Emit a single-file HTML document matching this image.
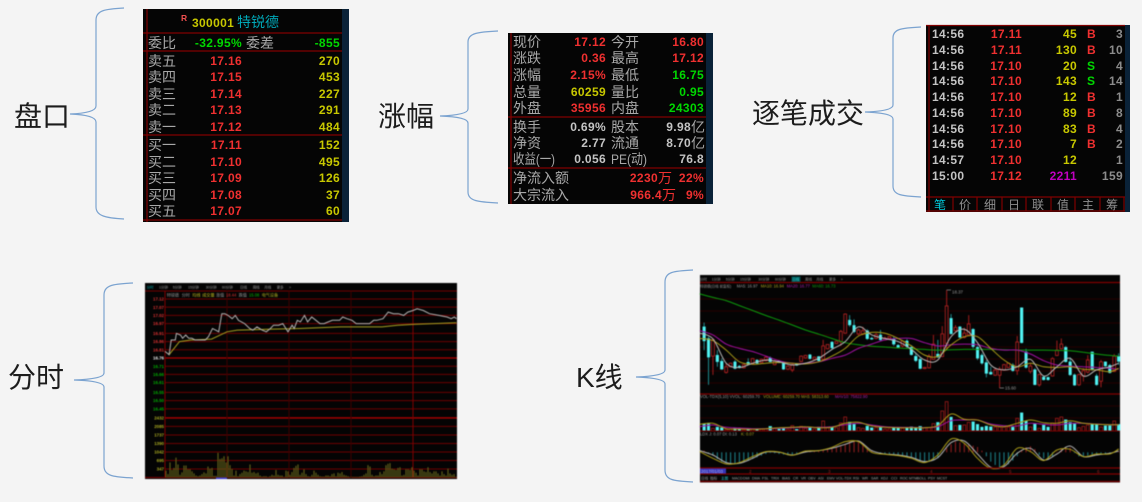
<!DOCTYPE html>
<html lang="zh">
<head>
<meta charset="utf-8">
<title>分时 K线 盘口</title>
<style>
html,body{margin:0;padding:0;background:#f4f4f4;width:1142px;height:502px;overflow:hidden}
svg{display:block;position:absolute;left:0;top:0}
text{font-family:"Liberation Sans","Noto Sans CJK SC",sans-serif}
.big{font-size:28px;fill:#1c1c1c;font-family:"Liberation Sans","Noto Sans CJK SC",sans-serif}
.l{font-size:14px;fill:#a8a8a8}
.n{font-size:12px;font-weight:700;letter-spacing:.35px}
.r{fill:#f03030}.y{fill:#c8c800}.g{fill:#00d800}.w{fill:#c4c4c4}.c{fill:#00a8b8}.m{fill:#c000c0}.d{fill:#8c8c8c}
.e{text-anchor:end}
.s{font-size:4.1px;fill:#9a9a9a}
.t{font-size:3.5px;fill:#9a9a9a}
.brace{fill:none;stroke:#7ba3d0;stroke-width:1.2}
.ln{stroke:#800000;stroke-width:1.2}
.soft{filter:blur(.35px)}
.blur{filter:blur(.55px)}
</style>
</head>
<body>
<svg width="1142" height="502" viewBox="0 0 1142 502" xmlns="http://www.w3.org/2000/svg">

<text class="big" x="14" y="126">盘口</text>
<text class="big" x="378" y="126">涨幅</text>
<text class="big" x="752" y="123">逐笔成交</text>
<text class="big" x="8" y="387">分时</text>
<text class="big" x="576" y="387">K线</text>

<path class="brace" d="M124 8C106 9 96 10 96 20L96 106Q96 113 70 114Q96 115 96 122L96 207C96 216 106 218 124 219"/>
<path class="brace" d="M498 31C478 32 468 33 468 42L468 109Q468 115 440 116Q468 117 468 123L468 192C468 201 478 202 498 203"/>
<path class="brace" d="M921 27C901 28 893 29 893 38L893 105Q893 111 865 112Q893 113 893 119L893 186C893 195 901 196 921 197"/>
<path class="brace" d="M133 283C113 284 104 285 104 295L104 373Q104 379 74 380Q104 381 104 387L104 466C104 476 113 477 133 478"/>
<path class="brace" d="M693 270C673 271 665 272 665 282L665 370Q665 376 636 377Q665 378 665 384L665 470C665 480 673 481 693 482"/>

<g class="soft">
<rect x="143" y="9" width="206" height="213" fill="#050505"/>
<rect x="342" y="9" width="7" height="213" fill="#0a2238"/>
<line class="ln" x1="147" y1="9" x2="147" y2="222"/>
<line class="ln" x1="143" y1="33" x2="342" y2="33"/>
<line class="ln" x1="143" y1="51" x2="342" y2="51"/>
<line class="ln" x1="143" y1="135" x2="342" y2="135"/>
<line class="ln" x1="143" y1="220" x2="342" y2="220"/>
<text x="181" y="21" font-size="8.5" font-weight="700" fill="#f05050">R</text>
<text class="n y" x="192" y="27">300001</text>
<text class="c" x="237" y="27" font-size="14">特锐德</text>
<text class="l" x="148" y="48">委比</text>
<text class="n g e" x="242" y="47">-32.95%</text>
<text class="l" x="246" y="48">委差</text>
<text class="n g e" x="340" y="47">-855</text>

<text class="l" x="148" y="66">卖五</text><text class="n r e" x="242" y="65">17.16</text><text class="n y e" x="340" y="65">270</text>
<text class="l" x="148" y="82">卖四</text><text class="n r e" x="242" y="81">17.15</text><text class="n y e" x="340" y="81">453</text>
<text class="l" x="148" y="99">卖三</text><text class="n r e" x="242" y="98">17.14</text><text class="n y e" x="340" y="98">227</text>
<text class="l" x="148" y="115">卖二</text><text class="n r e" x="242" y="114">17.13</text><text class="n y e" x="340" y="114">291</text>
<text class="l" x="148" y="132">卖一</text><text class="n r e" x="242" y="131">17.12</text><text class="n y e" x="340" y="131">484</text>
<text class="l" x="148" y="150">买一</text><text class="n r e" x="242" y="149">17.11</text><text class="n y e" x="340" y="149">152</text>
<text class="l" x="148" y="167">买二</text><text class="n r e" x="242" y="166">17.10</text><text class="n y e" x="340" y="166">495</text>
<text class="l" x="148" y="183">买三</text><text class="n r e" x="242" y="182">17.09</text><text class="n y e" x="340" y="182">126</text>
<text class="l" x="148" y="200">买四</text><text class="n r e" x="242" y="199">17.08</text><text class="n y e" x="340" y="199">37</text>
<text class="l" x="148" y="216">买五</text><text class="n r e" x="242" y="215">17.07</text><text class="n y e" x="340" y="215">60</text>
</g>

<g class="soft">
<rect x="508" y="33" width="205" height="171" fill="#050505"/>
<rect x="706" y="33" width="7" height="171" fill="#0a2238"/>
<line class="ln" x1="511" y1="33" x2="511" y2="204"/>
<line class="ln" x1="508" y1="117" x2="706" y2="117"/>
<line class="ln" x1="508" y1="168" x2="706" y2="168"/>

<text class="l" x="513" y="47">现价</text><text class="n r e" x="606" y="46">17.12</text><text class="l" x="611" y="47">今开</text><text class="n r e" x="704" y="46">16.80</text>
<text class="l" x="513" y="63">涨跌</text><text class="n r e" x="606" y="62">0.36</text><text class="l" x="611" y="63">最高</text><text class="n r e" x="704" y="62">17.12</text>
<text class="l" x="513" y="80">涨幅</text><text class="n r e" x="606" y="79">2.15%</text><text class="l" x="611" y="80">最低</text><text class="n g e" x="704" y="79">16.75</text>
<text class="l" x="513" y="97">总量</text><text class="n y e" x="606" y="96">60259</text><text class="l" x="611" y="97">量比</text><text class="n g e" x="704" y="96">0.95</text>
<text class="l" x="513" y="113">外盘</text><text class="n r e" x="606" y="112">35956</text><text class="l" x="611" y="113">内盘</text><text class="n g e" x="704" y="112">24303</text>
<text class="l" x="513" y="132">换手</text><text class="n w e" x="606" y="131">0.69%</text><text class="l" x="611" y="132">股本</text><text class="n w e" x="691" y="131">9.98</text><text class="l" x="691" y="132">亿</text>
<text class="l" x="513" y="148">净资</text><text class="n w e" x="606" y="147">2.77</text><text class="l" x="611" y="148">流通</text><text class="n w e" x="691" y="147">8.70</text><text class="l" x="691" y="148">亿</text>
<text class="l" x="513" y="164" textLength="42" lengthAdjust="spacingAndGlyphs">收益(一)</text><text class="n w e" x="606" y="163">0.056</text><text class="l" x="611" y="164" textLength="36" lengthAdjust="spacingAndGlyphs">PE(动)</text><text class="n w e" x="704" y="163">76.8</text>
<text class="l" x="513" y="183">净流入额</text><text class="n r e" x="658" y="182">2230</text><text class="l r" x="658" y="183" style="fill:#f03030">万</text><text class="n r e" x="704" y="182">22%</text>
<text class="l" x="513" y="200">大宗流入</text><text class="n r e" x="662" y="199">966.4</text><text class="l r" x="662" y="200" style="fill:#f03030">万</text><text class="n r e" x="704" y="199">9%</text>
</g>

<g class="soft">
<rect x="926" y="25" width="204" height="187" fill="#050505"/>
<rect x="1125" y="25" width="5" height="187" fill="#0a2238"/>
<line class="ln" x1="929" y1="25" x2="929" y2="212"/>
<line class="ln" x1="926" y1="25.5" x2="1125" y2="25.5"/>
<line class="ln" x1="926" y1="197" x2="1125" y2="197"/>
<line class="ln" x1="926" y1="211" x2="1125" y2="211"/>

<text class="n w" x="932" y="38">14:56</text><text class="n r e" x="1022" y="38">17.11</text><text class="n y e" x="1077" y="38">45</text><text class="n r" x="1087" y="38">B</text><text class="n d e" x="1123" y="38">3</text>
<text class="n w" x="932" y="54">14:56</text><text class="n r e" x="1022" y="54">17.11</text><text class="n y e" x="1077" y="54">130</text><text class="n r" x="1087" y="54">B</text><text class="n d e" x="1123" y="54">10</text>
<text class="n w" x="932" y="70">14:56</text><text class="n r e" x="1022" y="70">17.10</text><text class="n y e" x="1077" y="70">20</text><text class="n g" x="1087" y="70">S</text><text class="n d e" x="1123" y="70">4</text>
<text class="n w" x="932" y="85">14:56</text><text class="n r e" x="1022" y="85">17.10</text><text class="n y e" x="1077" y="85">143</text><text class="n g" x="1087" y="85">S</text><text class="n d e" x="1123" y="85">14</text>
<text class="n w" x="932" y="101">14:56</text><text class="n r e" x="1022" y="101">17.10</text><text class="n y e" x="1077" y="101">12</text><text class="n r" x="1087" y="101">B</text><text class="n d e" x="1123" y="101">1</text>
<text class="n w" x="932" y="117">14:56</text><text class="n r e" x="1022" y="117">17.10</text><text class="n y e" x="1077" y="117">89</text><text class="n r" x="1087" y="117">B</text><text class="n d e" x="1123" y="117">8</text>
<text class="n w" x="932" y="133">14:56</text><text class="n r e" x="1022" y="133">17.10</text><text class="n y e" x="1077" y="133">83</text><text class="n r" x="1087" y="133">B</text><text class="n d e" x="1123" y="133">4</text>
<text class="n w" x="932" y="148">14:56</text><text class="n r e" x="1022" y="148">17.10</text><text class="n y e" x="1077" y="148">7</text><text class="n r" x="1087" y="148">B</text><text class="n d e" x="1123" y="148">2</text>
<text class="n w" x="932" y="164">14:57</text><text class="n r e" x="1022" y="164">17.10</text><text class="n y e" x="1077" y="164">12</text><text class="n d e" x="1123" y="164">1</text>
<text class="n w" x="932" y="180">15:00</text><text class="n r e" x="1022" y="180">17.12</text><text class="n m e" x="1077" y="180">2211</text><text class="n d e" x="1123" y="180">159</text>

<g>
<line class="ln" x1="953" y1="197" x2="953" y2="211"/>
<line class="ln" x1="977" y1="197" x2="977" y2="211"/>
<line class="ln" x1="1002" y1="197" x2="1002" y2="211"/>
<line class="ln" x1="1026" y1="197" x2="1026" y2="211"/>
<line class="ln" x1="1051" y1="197" x2="1051" y2="211"/>
<line class="ln" x1="1075" y1="197" x2="1075" y2="211"/>
<line class="ln" x1="1100" y1="197" x2="1100" y2="211"/>
<line class="ln" x1="1124" y1="197" x2="1124" y2="211"/>
</g>
<text x="934" y="209" font-size="12" fill="#00c8d8">笔</text>
<text x="959" y="209" font-size="12" fill="#909090">价</text>
<text x="984" y="209" font-size="12" fill="#909090">细</text>
<text x="1008" y="209" font-size="12" fill="#909090">日</text>
<text x="1032" y="209" font-size="12" fill="#909090">联</text>
<text x="1057" y="209" font-size="12" fill="#909090">值</text>
<text x="1082" y="209" font-size="12" fill="#909090">主</text>
<text x="1106" y="209" font-size="12" fill="#909090">筹</text>
</g>

<g class="blur">
<rect x="145" y="283" width="312" height="196" fill="#040404"/>
<line x1="145" y1="291" x2="457" y2="291" stroke="#700000"/>
<g id="i-grid"></g>
<g id="i-vol"></g>
<path id="i-avg" fill="none" stroke="#a8a020" stroke-width="1"/>
<path id="i-price" fill="none" stroke="#b4b4b4" stroke-width="1"/>
<g id="i-ticks" font-size="4.4" font-weight="700" text-anchor="end"></g>
<rect x="216" y="477.5" width="11" height="1.5" fill="#3838d0"/>

<text class="t" x="146.7" y="288.5" style="fill:#00a8a8">分时</text>
<text class="t" x="159" y="288.5">1分钟</text>
<text class="t" x="172.7" y="288.5">5分钟</text>
<text class="t" x="188" y="288.5">15分钟</text>
<text class="t" x="205.7" y="288.5">30分钟</text>
<text class="t" x="222" y="288.5">60分钟</text>
<text class="t" x="240" y="288.5">日线</text>
<text class="t" x="252.7" y="288.5">周线</text>
<text class="t" x="264.3" y="288.5">月线</text>
<text class="t" x="276.7" y="288.5">更多</text>
<text class="t" x="289" y="288.5">&gt;</text>

<text class="s" x="166.7" y="296.5">特锐德</text>
<text class="s" x="181.7" y="296.5">分时</text>
<text class="s" x="192.3" y="296.5" style="fill:#c8c020">均线</text>
<text class="s" x="202.3" y="296.5" style="fill:#c8c020">成交量</text>
<text class="s" x="216" y="296.5">涨值</text>
<text class="s" x="226" y="296.5" style="fill:#e03030">18.44</text>
<text class="s" x="238.7" y="296.5">跌值</text>
<text class="s" x="249" y="296.5" style="fill:#00c000">15.08</text>
<text class="s" x="261.7" y="296.5" style="fill:#b0b020">电气设备</text>
</g>

<g class="blur">
<rect x="700" y="275" width="420" height="207.5" fill="#040404"/>
<g id="k-grid"></g>
<g id="k-candles"></g>
<g id="k-mas"></g>
<g id="k-vol"></g>
<g id="k-volma"></g>
<g id="k-hist"></g>
<g id="k-ind"></g>

<line class="ln" x1="700" y1="282.5" x2="1120" y2="282.5"/>
<line class="ln" x1="700" y1="394" x2="1120" y2="394"/>
<line class="ln" x1="700" y1="468" x2="1120" y2="468"/>
<line class="ln" x1="700" y1="474" x2="1120" y2="474"/>
<line class="ln" x1="700" y1="481.5" x2="1120" y2="481.5"/>

<text class="t" x="700" y="280.5">分时</text>
<text class="t" x="711.7" y="280.5">1分钟</text>
<text class="t" x="725.7" y="280.5">5分钟</text>
<text class="t" x="740" y="280.5">15分钟</text>
<text class="t" x="758.3" y="280.5">30分钟</text>
<text class="t" x="775" y="280.5">60分钟</text>
<rect x="791.5" y="276.5" width="9" height="5.5" fill="#005050"/>
<text class="t" x="792.3" y="280.5" style="fill:#30e0e0">日线</text>
<text class="t" x="805" y="280.5">周线</text>
<text class="t" x="816.3" y="280.5">月线</text>
<text class="t" x="829" y="280.5">更多</text>
<text class="t" x="840.7" y="280.5">&gt;</text>

<text class="t" x="700" y="287.5">特锐德(日线 前复权)</text>
<text class="s" x="736.7" y="287.5">MA5: 16.97</text>
<text class="s" x="760.7" y="287.5" style="fill:#b0a820">MA10: 16.94</text>
<text class="s" x="786.7" y="287.5" style="fill:#b020b0">MA20: 16.77</text>
<text class="s" x="812.3" y="287.5" style="fill:#10a010">MA60: 16.73</text>

<text x="952" y="293.5" font-size="4.4" fill="#9a9a9a">18.37</text>
<text x="1005" y="389.5" font-size="4.4" fill="#9a9a9a">15.60</text>

<text class="s" x="700" y="398">VOL-TDX(5,10) VVOL: 60259.70</text>
<text class="s" x="763.3" y="398" style="fill:#b0a820">VOLUME: 60259.70 MA5: 58313.60</text>
<text class="s" x="835" y="398" style="fill:#b020b0">MAV10: 75822.90</text>
<text class="s" x="700" y="435.5">LDX J: 0.07 DI: 0.13</text>
<text class="s" x="741" y="435.5" style="fill:#b0a820">K: 0.07</text>

<rect x="700" y="468.5" width="26" height="5" fill="#3434b8"/>
<text x="701" y="472.8" font-size="4.4" fill="#b0b0f0">2017/01/03</text>
<text x="749" y="473" font-size="4.6" fill="#a02020">2</text>
<text x="828" y="473" font-size="4.6" fill="#a02020">3</text>
<text x="930" y="473" font-size="4.6" fill="#a02020">4</text>
<text x="1009" y="473" font-size="4.6" fill="#a02020">5</text>
<text x="1097" y="473" font-size="4.6" fill="#a02020">6</text>

<g font-size="3.6" fill="#a4a4a4">
<text x="701" y="479.5">日线</text>
<text x="710" y="479.5">指标</text>
<text x="721" y="479.5" fill="#30d0d0">主图</text>
<text x="732" y="479.5">MACD</text>
<text x="743" y="479.5">DMI</text>
<text x="752" y="479.5">DMA</text>
<text x="762" y="479.5">FSL</text>
<text x="771" y="479.5">TRIX</text>
<text x="782" y="479.5">BIAS</text>
<text x="793" y="479.5">CR</text>
<text x="801" y="479.5">VR</text>
<text x="808" y="479.5">OBV</text>
<text x="818" y="479.5">ASI</text>
<text x="827" y="479.5">EMV</text>
<text x="836" y="479.5">VOL-TDX</text>
<text x="853" y="479.5">RSI</text>
<text x="862" y="479.5">WR</text>
<text x="871" y="479.5">SAR</text>
<text x="881" y="479.5">KDJ</text>
<text x="891" y="479.5">CCI</text>
<text x="900" y="479.5">ROC</text>
<text x="909" y="479.5">MTM</text>
<text x="917" y="479.5">BOLL</text>
<text x="928" y="479.5">PSY</text>
<text x="937" y="479.5">MCST</text>
</g>
</g>
</svg>

<script>
const intradayMinutes = [0,4,6,10,11,15,17,20,23,26,29,32,35,39,42,46,49,52,55,58,61,65,68,71,74,77,82,85,89,94,98,102,105,110,114,117,119,123,125,128,131,135,138,142,146,150,154,158,162,166,169,172,176,181,185,190,195,198,202,205,211,216,221,226,231,235,240,244,250,256,265,273,277,280,282];
const intradayPrices = [16.80,16.78,16.87,16.87,16.91,16.90,16.88,16.90,16.88,16.88,16.87,16.87,16.87,16.87,16.89,16.94,16.93,16.92,17.03,17.03,17.02,17.00,17.02,16.99,16.98,16.97,16.94,16.93,16.95,16.93,16.92,16.94,16.96,16.96,16.97,16.94,16.92,16.96,16.94,16.99,16.98,17.02,16.98,17.01,16.99,16.97,16.97,16.98,16.99,16.99,16.99,17.01,17.00,16.99,16.97,16.97,16.97,16.97,16.99,16.99,17.00,17.04,17.03,17.03,17.02,17.04,17.05,17.06,17.05,17.03,17.02,17.01,17.00,17.01,17.00];
const averageMinutes = [4,14,25,45,50,60,70,100,130,170,210,225,240,282];
const averagePrices = [16.78,16.86,16.87,16.875,16.89,16.92,16.93,16.935,16.94,16.95,16.95,16.96,16.965,16.975];
const intradayVolumes = [280,140,616,308,392,812,532,112,210,490,490,336,336,252,168,84,56,84,140,210,168,448,364,392,70,70,1008,756,784,868,616,868,504,350,84,280,56,140,196,280,252,224,532,196,224,168,196,84,42,56,56,28,56,112,84,308,112,84,84,28,280,252,112,224,392,476,532,112,196,336,140,56,42,112,280,196,112,56,42,42,84,84,56,140,168,56,196,168,224,112,84,56,28,28,28,28,28,42,56,112,168,504,448,112,56,84,84,224,140,252,504,560,588,364,336,308,392,420,84,112,336,336,308,420,280,196,84,336,336,252,224,420,224,168,252,252,168,84,252,140,84,364,168,112,140,28];
const priceTickLabels = ["17.12","17.07","17.02","16.97","16.91","16.86","16.81","16.76","16.71","16.66","16.61","16.55","16.50","16.45"];
const volumeTickLabels = ["2432","2085","1737","1390","1042","695","347"];
const hourMarks = [60,120,180,240];

const opens = [17.00,17.33,17.00,16.50,16.53,16.36,16.04,16.20,16.34,16.22,16.17,16.33,16.28,16.39,16.32,16.37,16.45,16.26,16.37,16.32,16.13,16.11,16.28,16.35,16.45,16.54,16.41,16.49,16.41,16.71,16.90,16.86,16.90,17.15,17.52,17.37,17.13,17.13,17.22,17.01,17.00,17.10,16.96,17.00,16.98,16.81,16.79,16.93,16.75,16.50,16.41,16.15,16.17,16.41,16.56,16.49,16.86,17.57,17.22,17.33,17.03,17.10,17.26,16.75,16.53,16.32,16.05,15.96,15.96,16.11,16.18,16.25,16.09,17.87,16.62,16.07,16.12,15.69,15.91,15.90,15.94,16.52,16.71,16.75,16.34,15.97,15.69,15.94,16.05,16.62,15.94,15.79,16.34,16.24,16.07,16.49];
const closes = [17.41,16.93,16.47,16.96,16.34,16.13,16.20,16.30,16.15,16.17,16.26,16.26,16.43,16.30,16.41,16.47,16.34,16.36,16.32,16.13,16.22,16.26,16.24,16.50,16.52,16.43,16.47,16.37,16.79,16.83,16.73,16.92,17.20,17.69,17.38,17.19,17.24,17.22,16.99,16.98,17.11,16.96,17.01,17.05,16.84,16.75,16.92,16.77,16.54,16.37,16.15,16.18,16.50,16.84,16.47,17.13,17.92,17.13,17.31,17.03,17.15,17.41,16.77,16.44,16.30,16.01,15.99,16.11,16.13,16.26,16.30,16.09,16.90,16.88,16.18,16.22,15.69,15.98,15.83,15.83,16.43,16.67,16.84,16.34,15.97,15.68,15.98,16.09,16.39,16.11,15.69,16.34,16.22,16.03,16.50,16.35];
const highs = [17.43,17.45,17.05,17.00,16.67,16.44,16.30,16.32,16.39,16.25,16.28,16.44,16.45,16.41,16.43,16.50,16.49,16.39,16.39,16.34,16.24,16.28,16.30,16.52,16.54,16.56,16.49,16.50,16.96,16.84,16.92,16.94,17.24,17.71,17.66,17.54,17.28,17.33,17.26,17.05,17.15,17.24,17.05,17.07,17.05,16.84,16.94,16.98,16.81,16.58,16.47,16.20,16.56,17.10,16.96,17.35,18.37,17.69,17.38,17.35,17.31,17.66,17.29,16.79,16.58,16.39,16.20,16.16,16.20,16.28,16.32,16.30,17.07,17.88,16.71,16.30,16.16,16.00,15.94,15.92,16.47,16.94,17.00,16.79,16.47,16.01,16.00,16.16,16.53,16.63,16.00,16.39,16.35,16.28,16.56,16.58];
const lows = [16.96,16.67,15.69,15.97,16.20,16.11,16.01,16.18,16.13,16.15,16.15,16.24,16.26,16.28,16.30,16.35,16.33,16.24,16.30,16.11,16.11,16.05,16.22,16.33,16.43,16.41,16.39,16.35,16.39,16.69,16.71,16.84,16.79,17.13,17.33,17.15,17.09,17.10,16.96,16.96,16.98,16.92,16.94,16.98,16.79,16.73,16.75,16.73,16.52,16.33,16.13,16.13,16.15,16.39,16.45,16.47,16.67,17.11,17.19,17.01,17.00,17.07,16.72,16.39,16.26,15.90,15.97,15.94,15.60,16.09,16.17,16.06,15.97,16.86,16.15,16.01,15.68,15.64,15.81,15.81,15.92,16.50,16.69,16.32,15.94,15.66,15.66,15.78,16.01,16.09,15.66,15.62,16.20,16.01,16.05,16.25];
const maSessions = [0,3,6,9,12,15,18,21,24,27,30,33,36,39,42,45,48,51,54,57,60,63,66,69,72,75,78,81,84,87,90,93,95];
const ma5 = [17.15,16.99,16.30,16.18,16.30,16.39,16.34,16.25,16.30,16.44,16.69,16.91,17.33,17.10,17.00,16.91,16.69,16.39,16.39,17.05,17.26,16.88,16.25,16.11,16.20,16.41,15.94,16.20,16.44,15.94,16.11,16.20,16.30];
const ma10 = [17.00,16.94,16.67,16.34,16.27,16.30,16.32,16.30,16.28,16.34,16.50,16.72,17.07,17.17,17.15,17.00,16.79,16.53,16.49,16.82,17.05,17.05,16.72,16.39,16.20,16.30,16.20,16.18,16.20,16.13,16.11,16.06,16.16];
const ma20 = [17.22,17.10,16.84,16.72,16.63,16.50,16.37,16.30,16.30,16.34,16.44,16.53,16.72,16.84,16.96,17.00,17.00,16.88,16.79,16.82,16.84,16.82,16.72,16.67,16.67,16.56,16.37,16.25,16.22,16.20,16.18,16.16,16.13];
const ma60 = [18.26,18.16,18.07,17.93,17.79,17.65,17.52,17.38,17.24,17.12,17.00,16.88,16.82,16.78,16.76,16.73,16.71,16.69,16.67,16.68,16.69,16.69,16.69,16.68,16.67,16.67,16.67,16.66,16.65,16.61,16.56,16.52,16.50];
const dailyVolumes = [99,66,72,24,36,30,12,18,24,18,12,21,18,15,15,18,42,24,18,24,15,48,15,42,24,33,18,36,90,30,36,30,72,126,81,60,30,24,45,30,30,42,18,18,33,30,24,27,39,30,42,30,30,66,78,180,264,126,48,54,54,78,84,60,36,45,39,36,36,36,36,36,114,165,90,36,66,24,54,36,72,114,126,102,78,66,30,42,54,60,60,36,48,48,90,60];
const volMa5 = [60,69,21,18,15,21,30,33,39,30,33,69,78,45,33,30,30,30,48,153,105,99,54,39,69,99,75,69,93,69,60,57,57];
const volMa10 = [39,54,33,27,21,21,24,30,33,33,39,57,69,54,39,33,33,30,39,93,99,99,63,48,45,69,60,54,69,69,63,57,57];
const indicatorJ = [0.02,-0.18,-0.35,-0.31,-0.13,0.02,0.01,-0.09,0.04,0.05,0.15,0.32,0.32,0,-0.06,-0.10,-0.18,-0.31,-0.08,0.40,0.27,-0.18,-0.48,-0.38,0.12,0.02,-0.25,0.07,0.09,-0.13,-0.05,-0.05,0.10];
const indicatorK = [0.05,-0.08,-0.31,-0.33,-0.18,0.01,0,-0.08,0.01,0.05,0.12,0.24,0.34,0.05,-0.05,-0.08,-0.15,-0.28,-0.16,0.29,0.34,-0.05,-0.45,-0.43,-0.03,0.12,-0.23,-0.05,0.19,-0.13,-0.08,-0.03,0.04];
const indicatorHist = [0.03,0.05,-0.02,-0.10,-0.20,-0.28,-0.32,-0.35,-0.35,-0.33,-0.30,-0.26,-0.20,-0.15,-0.10,-0.05,-0.02,-0.03,-0.05,-0.07,-0.09,-0.08,-0.06,-0.03,0.01,0.03,0.05,0.06,0.07,0.09,0.11,0.14,0.18,0.24,0.32,0.33,0.30,0.22,0.12,0.05,-0.01,-0.03,-0.04,-0.05,-0.06,-0.07,-0.09,-0.12,-0.15,-0.20,-0.25,-0.28,-0.29,-0.25,-0.18,-0.02,0.12,0.24,0.32,0.30,0.26,0.22,0.20,0.16,0.05,-0.12,-0.28,-0.38,-0.44,-0.42,-0.36,-0.25,-0.12,0.05,0.15,0.18,0.10,-0.08,-0.18,-0.22,-0.14,0.02,0.12,0.16,0.14,-0.02,-0.12,-0.14,-0.10,-0.08,-0.06,-0.05,-0.04,-0.03,-0.01,0.02];

const NS = 'http://www.w3.org/2000/svg';
function make(tag, parentId, attrs) {
  const el = document.createElementNS(NS, tag);
  for (const k in attrs) el.setAttribute(k, attrs[k]);
  document.getElementById(parentId).appendChild(el);
  return el;
}

/* intraday axes */
const minuteX = t => 165 + t * 62 / 60;
const intradayPriceY = p => 358 - (p - 16.76) / 0.0061;
const intradayVolY = v => 477.5 - v * 8.5 / 347;
const intradayBarX = i => 166 + i * 2;

function linePath(xs, ys) {
  return xs.map((x, i) => (i ? 'L' : 'M') + x.toFixed(1) + ' ' + ys[i].toFixed(1)).join('');
}
function smoothPath(xs, ys) {
  let d = 'M' + xs[0].toFixed(1) + ' ' + ys[0].toFixed(1);
  for (let i = 0; i < xs.length - 1; i++) {
    const a = Math.max(i - 1, 0), b = Math.min(i + 2, xs.length - 1);
    const c1x = xs[i] + (xs[i + 1] - xs[a]) / 6, c1y = ys[i] + (ys[i + 1] - ys[a]) / 6;
    const c2x = xs[i + 1] - (xs[b] - xs[i]) / 6, c2y = ys[i + 1] - (ys[b] - ys[i]) / 6;
    d += 'C' + c1x.toFixed(1) + ' ' + c1y.toFixed(1) + ' ' + c2x.toFixed(1) + ' ' + c2y.toFixed(1) + ' ' + xs[i + 1].toFixed(1) + ' ' + ys[i + 1].toFixed(1);
  }
  return d;
}

priceTickLabels.forEach(label => {
  const v = parseFloat(label), y = intradayPriceY(v);
  const base = label === '16.76';
  const line = make('line', 'i-grid', {x1: 165, x2: 457, y1: y, y2: y, stroke: base ? '#b00000' : '#6c0000', 'stroke-width': base ? 1.3 : 1});
  
  
  const t = make('text', 'i-ticks', {x: 164, y: y + 1.6, fill: base ? '#e8e8e8' : (v > 16.76 ? '#d83030' : '#00a800')});
  t.textContent = label;
  
  
});
volumeTickLabels.forEach((label, i) => {
  const y = intradayVolY(parseFloat(label));
  const line = make('line', 'i-grid', {x1: 165, x2: 457, y1: y, y2: y, stroke: i === 0 ? '#b00000' : '#6c0000', 'stroke-width': i === 0 ? 1.3 : 1});
  
  
  const t = make('text', 'i-ticks', {x: 164, y: y + 1.6, fill: '#a8a820'});
  t.textContent = label;
  
  
});
const intradayFloor = make('line', 'i-grid', {x1: 145, x2: 457, y1: 477.5, y2: 477.5, stroke: '#800000'});


const intradayAxis = make('line', 'i-grid', {x1: 165, x2: 165, y1: 291, y2: 478, stroke: '#800000'});


hourMarks.forEach((m, i) => {
  const x = minuteX(m);
  const line = make('line', 'i-grid', {x1: x, x2: x, y1: 291, y2: 478, stroke: i === 3 ? '#800000' : '#3c0000'});
  
  
});
intradayVolumes.forEach((v, i) => {
  const y = intradayVolY(v);
  const bar = make('rect', 'i-vol', {x: intradayBarX(i) - 0.6, y: y, width: 1.2, height: 477.5 - y, fill: '#5c5c18'});
  
  
});
document.getElementById('i-price').setAttribute('d', linePath(intradayMinutes.map(minuteX), intradayPrices.map(intradayPriceY)));
document.getElementById('i-avg').setAttribute('d', linePath(averageMinutes.map(minuteX), averagePrices.map(intradayPriceY)));

/* daily axes */
const sessionX = i => 699.7 + i * 4.41;
const klineY = p => 290 + (18.37 - p) / 0.02827;
const dailyVolY = v => 431 - v / 9;
const indicatorY = v => 452.3 - v * 33.3;

[299, 311, 323, 335, 347, 359, 371, 383, 406, 418].forEach(y => {
  const line = make('line', 'k-grid', {x1: 700, x2: 1120, y1: y, y2: y, stroke: '#240000'});
  
  
});

opens.forEach((o, i) => {
  const c = closes[i], x = sessionX(i), up = c >= o;
  if (x < 700 || x > 1120) return;
  const top = klineY(Math.max(o, c)), bot = klineY(Math.min(o, c));
  const wick = make('line', 'k-candles', {x1: x, x2: x, y1: klineY(highs[i]), y2: klineY(lows[i]), stroke: up ? '#a01c1c' : '#1e8c90', 'stroke-width': 1});
  
  
  const body = make('rect', 'k-candles', {x: x - 1.4, y: top, width: 2.8, height: Math.max(bot - top, 1),
    fill: up ? '#040404' : '#52f4f4', stroke: up ? '#a82020' : '#52f4f4', 'stroke-width': up ? 0.9 : 0.3});
  
  
});

[[ma60, '#0c9a0c', 'ma60-line'], [ma20, '#a010a0', 'ma20-line'], [ma10, '#a89a18', 'ma10-line'], [ma5, '#b8b8b8', 'ma5-line']].forEach(s => {
  const p = make('path', 'k-mas', {d: smoothPath(maSessions.map(sessionX), s[0].map(klineY)), fill: 'none', stroke: s[1], 'stroke-width': 1});
  
  
});

dailyVolumes.forEach((v, i) => {
  const x = sessionX(i), up = closes[i] >= opens[i], y = dailyVolY(v);
  if (x < 700 || x > 1120) return;
  const bar = make('rect', 'k-vol', {x: x - 1.4, y: y, width: 2.8, height: 431 - y,
    fill: up ? '#040404' : '#52f4f4', stroke: up ? '#901818' : '#52f4f4', 'stroke-width': up ? 0.9 : 0.3});
  
  
});
[[volMa10, '#a010a0', 'volume-ma10-line'], [volMa5, '#a89a18', 'volume-ma5-line']].forEach(s => {
  const p = make('path', 'k-volma', {d: smoothPath(maSessions.map(sessionX), s[0].map(dailyVolY)), fill: 'none', stroke: s[1], 'stroke-width': 1});
  
  
});
const volFloor = make('line', 'k-volma', {x1: 700, x2: 1120, y1: 431, y2: 431, stroke: '#800000'});



indicatorHist.forEach((v, i) => {
  const x = sessionX(i), y = indicatorY(v), z = indicatorY(0);
  if (x < 700 || x > 1120) return;
  const bar = make('line', 'k-hist', {x1: x, x2: x, y1: z, y2: y, stroke: v >= 0 ? '#8a1c1c' : '#1c7a82', 'stroke-width': 1.1});
  
  
});
[[indicatorK, '#b4b4b4', 'indicator-k-line'], [indicatorJ, '#a89a18', 'indicator-j-line']].forEach(s => {
  const p = make('path', 'k-ind', {d: smoothPath(maSessions.map(sessionX), s[0].map(indicatorY)), fill: 'none', stroke: s[1], 'stroke-width': 1});
  
  
});

const hiLead = make('line', 'k-ind', {x1: sessionX(56), x2: 951, y1: klineY(18.37), y2: klineY(18.37), stroke: '#9a9a9a', 'stroke-width': 0.7});


const loLead = make('line', 'k-ind', {x1: sessionX(68), x2: 1004, y1: klineY(15.60), y2: klineY(15.60), stroke: '#9a9a9a', 'stroke-width': 0.7});


</script>
</body>
</html>
